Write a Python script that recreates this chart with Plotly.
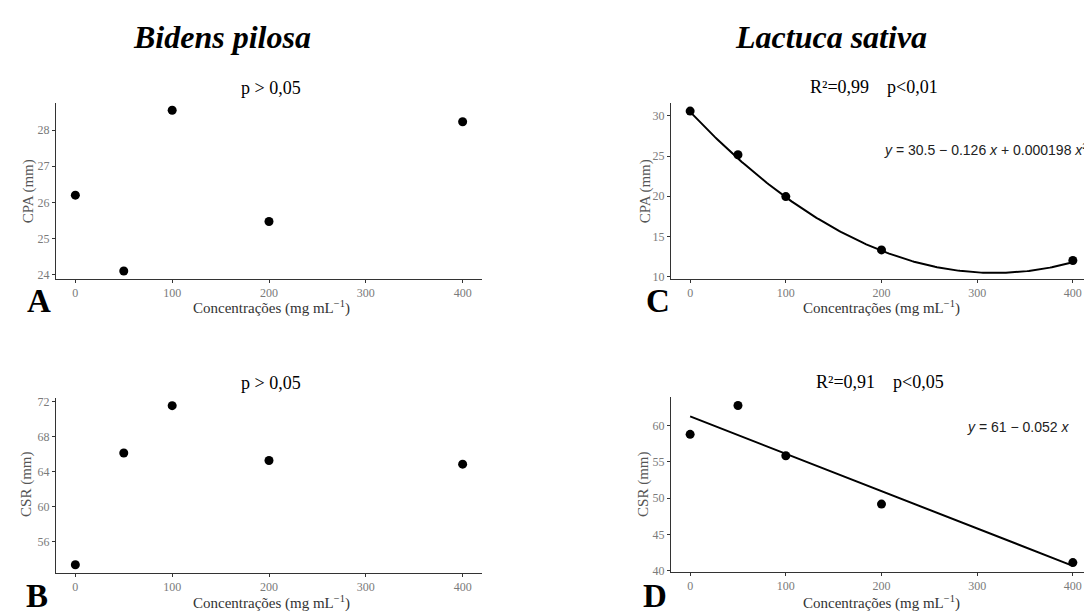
import numpy as np
import plotly.graph_objects as go

# ---------------- data ----------------
conc = [0, 50, 100, 200, 400]
bidens_cpa = [26.2, 24.1, 28.55, 25.47, 28.23]
bidens_csr = [53.4, 66.15, 71.55, 65.29, 64.88]
lactuca_cpa = [30.6, 25.17, 19.96, 13.32, 12.0]
lactuca_csr = [58.78, 62.75, 55.83, 49.18, 41.13]
cpa_fit_coef = [30.5, -0.126, 0.000198]   # y = 30.5 - 0.126 x + 0.000198 x^2

x_ticks = [0, 100, 200, 300, 400]
a_yticks = [24, 25, 26, 27, 28]
b_yticks = [56, 60, 64, 68, 72]
c_yticks = [10, 15, 20, 25, 30]
d_yticks = [40, 45, 50, 55, 60]

W, H = 1092, 614
def fx(px):
    return px / W
def fy(py):
    return 1 - py / H

SERIF = "Liberation Serif"
SANS = "Liberation Sans"

fig = go.Figure()

marker = dict(color="black", size=9)

fig.add_trace(go.Scatter(x=conc, y=bidens_cpa, mode="markers", marker=marker, xaxis="x", yaxis="y"))
fig.add_trace(go.Scatter(x=conc, y=bidens_csr, mode="markers", marker=marker, xaxis="x2", yaxis="y2"))

# Lactuca CPA quadratic fit
xs = np.linspace(min(conc), max(conc), 201)
ys_c = cpa_fit_coef[0] + cpa_fit_coef[1] * xs + cpa_fit_coef[2] * xs ** 2
fig.add_trace(go.Scatter(x=xs, y=ys_c, mode="lines", line=dict(color="black", width=2), xaxis="x3", yaxis="y3"))
fig.add_trace(go.Scatter(x=conc, y=lactuca_cpa, mode="markers", marker=marker, xaxis="x3", yaxis="y3"))

# Lactuca CSR linear fit
d_coef = np.polyfit(conc, lactuca_csr, 1)
ys_d = np.polyval(d_coef, xs)
fig.add_trace(go.Scatter(x=xs, y=ys_d, mode="lines", line=dict(color="black", width=2), xaxis="x4", yaxis="y4"))
fig.add_trace(go.Scatter(x=conc, y=lactuca_csr, mode="markers", marker=marker, xaxis="x4", yaxis="y4"))

def xax(dom, anchor):
    return dict(domain=[fx(dom[0]), fx(dom[1])], anchor=anchor, range=[-20, 420],
                tickvals=x_ticks, showline=True, linecolor="#333", linewidth=1,
                ticks="outside", ticklen=3, tickcolor="#333", showgrid=False, zeroline=False,
                tickfont=dict(family=SERIF, size=12, color="#7a7a7a"))

def yax(dom, anchor, rng, tv):
    return dict(domain=[fy(dom[1]), fy(dom[0])], anchor=anchor, range=rng,
                tickvals=tv, showline=True, linecolor="#333", linewidth=1,
                ticks="outside", ticklen=3, tickcolor="#333", showgrid=False, zeroline=False,
                tickfont=dict(family=SERIF, size=12, color="#7a7a7a"))

fig.update_layout(
    width=W, height=H, margin=dict(l=0, r=0, t=0, b=0),
    paper_bgcolor="white", plot_bgcolor="white", showlegend=False,
    xaxis=xax([48, 474], "y"), yaxis=yax([93, 272], "x", [23.88, 28.76], a_yticks),
    xaxis2=xax([48, 474], "y2"), yaxis2=yax([393, 570], "x2", [52.5, 72.4], b_yticks),
    xaxis3=xax([663, 1084], "y3"), yaxis3=yax([93, 272], "x3", [9.7, 31.65], c_yticks),
    xaxis4=xax([663, 1084], "y4"), yaxis4=yax([392, 569], "x4", [39.88, 63.88], d_yticks),
)

ann = []
def add(text, x, y, size, family=SERIF, color="black", xanchor="center", angle=0):
    ann.append(dict(text=text, x=fx(x), y=fy(y), xref="paper", yref="paper", showarrow=False,
                    xanchor=xanchor, yanchor="middle", textangle=angle,
                    font=dict(family=family, size=size, color=color)))

# species titles
add("<b><i>Bidens pilosa</i></b>", 214, 26, 32)
add("<b><i>Lactuca sativa</i></b>", 823, 26, 32)

# panel subtitles
add("p &gt; 0,05", 263, 78, 18)
add("p &gt; 0,05", 263, 378, 18)
add("R²=0,99\u00a0\u00a0\u00a0\u00a0p&lt;0,01", 866, 77, 18)
add("R²=0,91\u00a0\u00a0\u00a0\u00a0p&lt;0,05", 872, 377, 18)

# equations
add("<i>y</i> = 30.5 − 0.126 <i>x</i> + 0.000198 <i>x</i><sup>2</sup>", 874, 140, 14, family=SANS, color="#222", xanchor="left")
add("<i>y</i> = 61 − 0.052 <i>x</i>", 957, 422, 14, family=SANS, color="#222", xanchor="left")

# axis titles
xt = "Concentrações (mg mL<sup>−1</sup>)"
add(xt, 263, 301, 15, color="#333")
add(xt, 263, 600, 15, color="#333")
add(xt, 873, 301, 15, color="#333")
add(xt, 873, 600, 15, color="#333")
add("CPA (mm)", 20, 183, 15, color="#555", angle=-90)
add("CSR (mm)", 19, 481, 15, color="#555", angle=-90)
add("CPA (mm)", 637, 183, 15, color="#555", angle=-90)
add("CSR (mm)", 636, 481, 15, color="#555", angle=-90)

# panel letters
add("<b>A</b>", 31, 294, 33)
add("<b>B</b>", 29, 594, 33)
add("<b>C</b>", 650, 294, 33)
add("<b>D</b>", 647, 594, 33)

fig.update_layout(annotations=ann)

fig.write_html("out.html")
